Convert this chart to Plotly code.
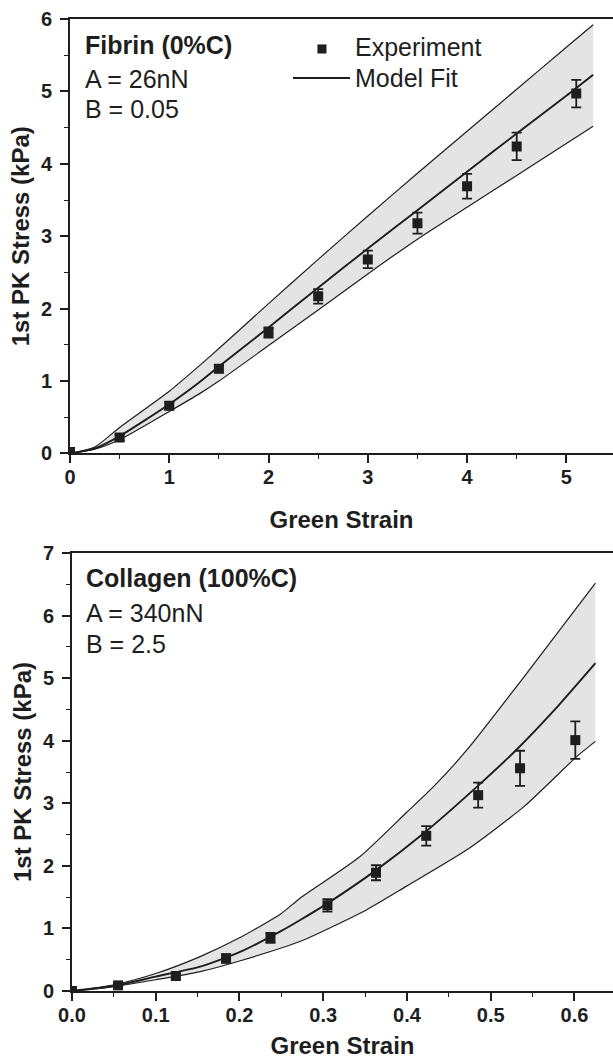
import plotly.graph_objects as go

# ---------------- Top panel: Fibrin (0%C) ----------------
fib_x = [0, 0.5, 1.0, 1.5, 2.0, 2.5, 3.0, 3.5, 4.0, 4.5, 5.1]
fib_y = [0.02, 0.22, 0.66, 1.17, 1.67, 2.17, 2.68, 3.18, 3.69, 4.24, 4.97]
fib_err = [0.02, 0.04, 0.05, 0.05, 0.07, 0.10, 0.12, 0.145, 0.17, 0.19, 0.19]

fib_fit_x = [0, 0.25, 0.5, 1.0, 1.31, 1.5, 2.0, 2.5, 3.0, 3.5, 4.0, 4.5, 5.0, 5.27]
fib_fit = [0, 0.07, 0.24, 0.68, 0.99, 1.20, 1.74, 2.29, 2.83, 3.36, 3.89, 4.42, 4.94, 5.23]
fib_up = [0, 0.09, 0.36, 0.86, 1.22, 1.45, 2.07, 2.68, 3.28, 3.87, 4.45, 5.03, 5.61, 5.92]
fib_lo = [0, 0.06, 0.19, 0.58, 0.83, 1.00, 1.49, 1.98, 2.48, 2.96, 3.40, 3.84, 4.28, 4.52]

# ---------------- Bottom panel: Collagen (100%C) ----------------
col_x = [0, 0.055, 0.124, 0.184, 0.237, 0.305, 0.363, 0.423, 0.485, 0.535, 0.601]
col_y = [0.0, 0.09, 0.24, 0.52, 0.85, 1.37, 1.89, 2.48, 3.13, 3.56, 4.01]
col_err = [0.02, 0.03, 0.04, 0.07, 0.08, 0.10, 0.12, 0.155, 0.20, 0.28, 0.30]

col_fit_x = [0, 0.05, 0.1, 0.153, 0.2, 0.25, 0.272, 0.305, 0.364, 0.42, 0.484, 0.531, 0.58, 0.625]
col_fit = [0, 0.08, 0.23, 0.39, 0.62, 0.96, 1.13, 1.40, 1.94, 2.52, 3.27, 3.86, 4.55, 5.24]
col_up_x = [0, 0.05, 0.1, 0.153, 0.2, 0.25, 0.272, 0.344, 0.4, 0.432, 0.472, 0.55, 0.625]
col_up = [0, 0.10, 0.28, 0.55, 0.85, 1.24, 1.48, 2.15, 2.86, 3.27, 3.86, 5.20, 6.52]
col_lo_x = [0, 0.05, 0.1, 0.153, 0.2, 0.272, 0.352, 0.4, 0.472, 0.54, 0.603, 0.625]
col_lo = [0, 0.07, 0.18, 0.31, 0.48, 0.79, 1.30, 1.68, 2.26, 2.95, 3.75, 3.99]

INK = "#1e1e1e"
FILL = "#e4e4e4"
FONT = "Liberation Sans"
SPL = dict(shape="spline", smoothing=0.6)

fig = go.Figure()


def add_panel(xa, ya, fx, fy, ux, uy, lx, ly, dx, dy, de):
    # shaded band between lower and upper bounds
    fig.add_trace(go.Scatter(x=lx, y=ly, mode="lines", line=dict(width=0, **SPL),
                             hoverinfo="skip", showlegend=False, xaxis=xa, yaxis=ya))
    fig.add_trace(go.Scatter(x=ux, y=uy, mode="lines", line=dict(width=0, **SPL),
                             fill="tonexty", fillcolor=FILL,
                             hoverinfo="skip", showlegend=False, xaxis=xa, yaxis=ya))
    # bound lines
    fig.add_trace(go.Scatter(x=ux, y=uy, mode="lines",
                             line=dict(color=INK, width=1.2, **SPL),
                             showlegend=False, xaxis=xa, yaxis=ya))
    fig.add_trace(go.Scatter(x=lx, y=ly, mode="lines",
                             line=dict(color=INK, width=1.2, **SPL),
                             showlegend=False, xaxis=xa, yaxis=ya))
    fig.add_trace(go.Scatter(
        x=dx, y=dy, mode="markers", name="Experiment",
        marker=dict(symbol="square", size=10, color=INK),
        error_y=dict(type="data", array=de, color=INK, thickness=1.8, width=5),
        showlegend=False, xaxis=xa, yaxis=ya))
    fig.add_trace(go.Scatter(x=fx, y=fy, mode="lines", name="Model Fit",
                             line=dict(color=INK, width=1.9, **SPL),
                             showlegend=False, xaxis=xa, yaxis=ya))


add_panel("x", "y", fib_fit_x, fib_fit, fib_fit_x, fib_up, fib_fit_x, fib_lo,
          fib_x, fib_y, fib_err)
add_panel("x2", "y2", col_fit_x, col_fit, col_up_x, col_up, col_lo_x, col_lo,
          col_x, col_y, col_err)

tickfont = dict(family=FONT, size=20, color=INK, weight="bold")
titlefont = dict(family=FONT, size=24, color=INK, weight="bold")

common_axis = dict(showline=True, linecolor=INK, linewidth=2, ticks="outside",
                   ticklen=8, tickwidth=1.6, tickcolor=INK, showgrid=False,
                   zeroline=False, tickfont=tickfont, automargin=False)
minor = dict(ticks="outside", ticklen=4, tickwidth=1.4, tickcolor=INK)

fig.update_layout(
    width=613, height=1063,
    margin=dict(l=70, r=0, t=19, b=72),
    paper_bgcolor="white", plot_bgcolor="white",
    font=dict(family=FONT, color=INK),
    showlegend=False,
    xaxis=dict(domain=[0, 1], range=[0, 5.47], dtick=1, tick0=0, mirror=True,
               minor=dict(dtick=0.5, **minor),
               title=dict(text="Green Strain", font=titlefont, standoff=24),
               anchor="y", ticklabelstandoff=-3, **common_axis),
    yaxis=dict(domain=[0.553, 1], range=[0, 6], dtick=1, tick0=0,
               minor=dict(dtick=0.5, **minor),
               title=dict(text="1st PK Stress (kPa)", font=titlefont, standoff=4),
               anchor="x", ticklabelstandoff=4, **common_axis),
    xaxis2=dict(domain=[2 / 543, 1], range=[0, 0.646], dtick=0.1, tick0=0, mirror=True,
                tickformat=".1f",
                minor=dict(dtick=0.05, **minor),
                title=dict(text="Green Strain", font=titlefont, standoff=12),
                anchor="y2", ticklabelstandoff=-3, **common_axis),
    yaxis2=dict(domain=[0, 0.4506], range=[0, 7], dtick=1, tick0=0,
                minor=dict(dtick=0.5, **minor),
                title=dict(text="1st PK Stress (kPa)", font=titlefont, standoff=4),
                anchor="x2", ticklabelstandoff=4, **common_axis),
)

# panel labels
ann_bold = dict(family=FONT, size=25, color=INK, weight="bold")
ann_reg = dict(family=FONT, size=25, color=INK)
annots = [
    ("x domain", "y domain", 0.024, 0.940, "Fibrin (0%C)", ann_bold),
    ("x domain", "y domain", 0.024, 0.862, "A = 26nN", ann_reg),
    ("x domain", "y domain", 0.024, 0.793, "B = 0.05", ann_reg),
    ("x2 domain", "y2 domain", 0.022, 0.943, "Collagen (100%C)", ann_bold),
    ("x2 domain", "y2 domain", 0.022, 0.863, "A = 340nN", ann_reg),
    ("x2 domain", "y2 domain", 0.022, 0.793, "B = 2.5", ann_reg),
]
for xr, yr, ax, ay, txt, f in annots:
    fig.add_annotation(xref=xr, yref=yr, x=ax, y=ay, text=txt, showarrow=False,
                       xanchor="left", yanchor="middle", font=f)

# legend (top panel)
leg_font = dict(family=FONT, size=25, color=INK)
fig.add_shape(type="rect", xref="x domain", yref="y domain",
              x0=0.4557, x1=0.4723, y0=0.9206, y1=0.9414,
              fillcolor=INK, line=dict(width=0))
fig.add_annotation(xref="x domain", yref="y domain", x=0.522, y=0.9356,
                   text="Experiment", showarrow=False, xanchor="left",
                   yanchor="middle", font=leg_font)
fig.add_shape(type="line", xref="x domain", yref="y domain",
              x0=0.4107, x1=0.5157, y0=0.8642, y1=0.8642,
              line=dict(color=INK, width=1.9))
fig.add_annotation(xref="x domain", yref="y domain", x=0.522, y=0.864,
                   text="Model Fit", showarrow=False, xanchor="left",
                   yanchor="middle", font=leg_font)

fig.write_html("out.html")
